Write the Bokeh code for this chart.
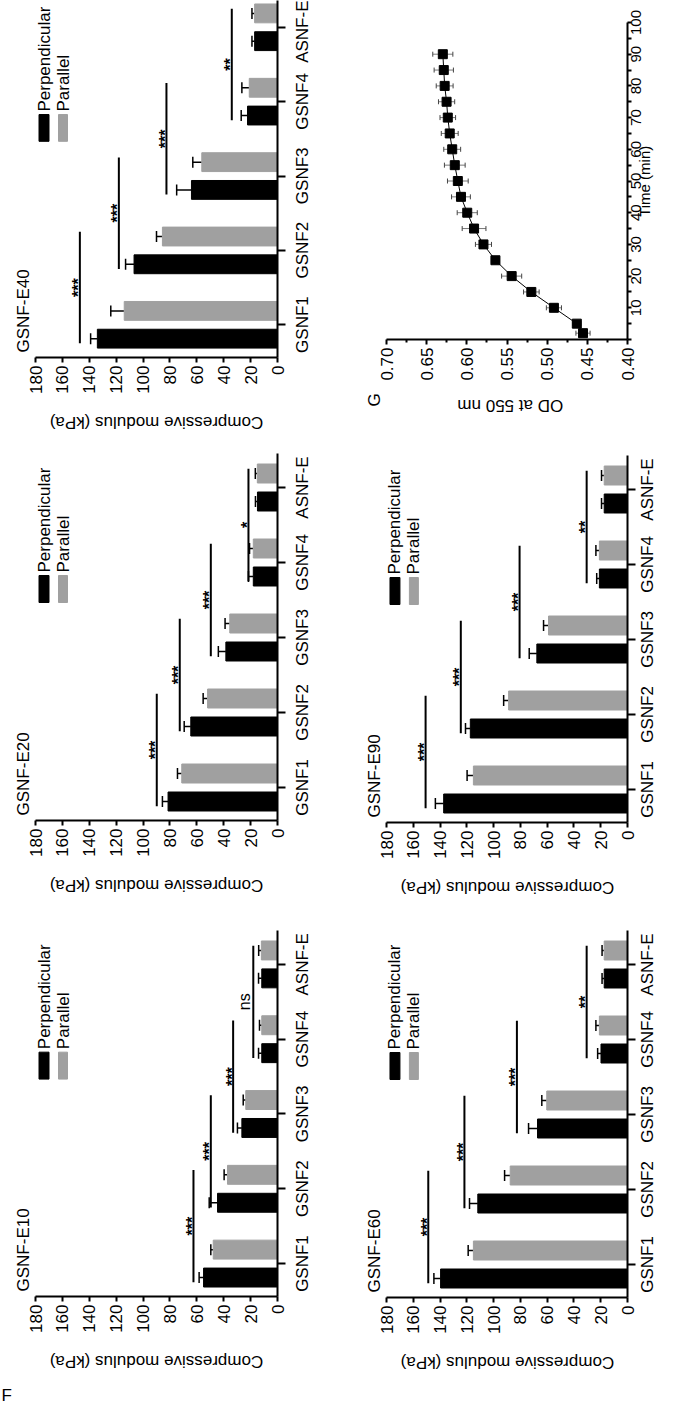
import math
from bokeh.plotting import figure
from bokeh.models import (Range1d, FixedTicker, Whisker, TeeHead, ColumnDataSource,
                          Title, LinearAxis)
from bokeh.layouts import row, column
from bokeh.core.properties import value
from bokeh.embed import file_html
from bokeh.resources import INLINE

# ---------------- data ----------------
categories = ["GSNF1", "GSNF2", "GSNF3", "GSNF4", "ASNF-E"]
series_names = ["Perpendicular", "Parallel"]
value_ticks = [0, 20, 40, 60, 80, 100, 120, 140, 160, 180]

e10_perp = [55.0, 44.6, 26.5, 11.7, 11.7]
e10_perp_err = [3.3, 6.2, 3.3, 2.4, 2.4]
e10_para = [47.8, 37.2, 23.6, 11.7, 12.0]
e10_para_err = [1.8, 2.5, 1.9, 1.7, 2.0]
e10_sig = [62.5, 49.6, 33.0, 18.0]
e10_sig_txt = ["***", "***", "***", "ns"]

e20_perp = [81.4, 64.5, 38.4, 18.0, 14.9]
e20_perp_err = [4.2, 4.9, 5.6, 3.6, 1.5]
e20_para = [71.2, 52.0, 35.5, 18.0, 15.0]
e20_para_err = [3.2, 3.3, 3.5, 2.8, 1.5]
e20_sig = [89.8, 72.7, 49.6, 21.6]
e20_sig_txt = ["***", "***", "***", "*"]

e40_perp = [134.0, 106.7, 64.0, 22.3, 17.0]
e40_perp_err = [5.0, 6.3, 11.0, 4.7, 2.0]
e40_para = [114.0, 85.6, 56.3, 21.0, 17.0]
e40_para_err = [10.0, 4.4, 6.7, 5.5, 2.0]
e40_sig = [147.0, 118.0, 82.6, 34.0]
e40_sig_txt = ["***", "***", "***", "**"]

e60_perp = [139.6, 111.8, 67.2, 19.8, 17.4]
e60_perp_err = [5.0, 6.2, 6.7, 2.5, 1.6]
e60_para = [115.1, 87.6, 60.3, 21.0, 17.4]
e60_para_err = [3.9, 4.2, 3.7, 2.6, 1.6]
e60_sig = [148.8, 121.8, 82.6, 30.5]
e60_sig_txt = ["***", "***", "***", "**"]

e90_perp = [137.3, 117.4, 67.7, 21.0, 17.4]
e90_perp_err = [6.2, 3.6, 5.7, 2.0, 2.0]
e90_para = [115.1, 88.8, 59.0, 21.0, 17.4]
e90_para_err = [4.7, 3.7, 3.7, 2.6, 2.0]
e90_sig = [150.8, 124.5, 80.6, 30.5]
e90_sig_txt = ["***", "***", "***", "**"]

od_time = [2, 5, 10, 15, 20, 25, 30, 35, 40, 45, 50, 55, 60, 65, 70, 75, 80, 85, 90]
od_value = [0.4554, 0.4631, 0.4916, 0.5197, 0.5442, 0.5644, 0.5793, 0.5910, 0.5995, 0.6073,
            0.6112, 0.6150, 0.6182, 0.6213, 0.6237, 0.6252, 0.6276, 0.6287, 0.6299]
od_err = [0.0088, 0.0050, 0.0094, 0.0097, 0.0125, 0.0050, 0.0100, 0.0148, 0.0125, 0.0117,
          0.0129, 0.0129, 0.0105, 0.0105, 0.0097, 0.0101, 0.0105, 0.0120, 0.0125]
od_ticks = [0.40, 0.45, 0.50, 0.55, 0.60, 0.65, 0.70]
od_minor_ticks = [0.425, 0.475, 0.525, 0.575, 0.625, 0.675]
time_ticks = [0, 10, 20, 30, 40, 50, 60, 70, 80, 90, 100]
time_all_ticks = [0, 5, 10, 15, 20, 25, 30, 35, 40, 45, 50, 55, 60, 65, 70, 75, 80, 85, 90, 95, 100]

# ---------------- style ----------------
FONT = "Liberation Sans"
FS = 17
BLACK = "#000000"
GRAY = "#a0a0a0"
PX_PER_CAT = 75.0
PX_PER_KPA = 242.0 / 180.0
STAR_OFF_PX = {"***": 1.0, "**": 1.0, "*": 1.0, "ns": 8.7}
# Liberation Sans (Arial metrics) advance widths in em, used to centre rotated labels
EM = {"G": .778, "S": .667, "N": .722, "F": .611, "A": .667, "E": .667, "-": .333,
      "C": .722, "o": .556, "m": .833, "p": .556, "r": .333, "e": .556, "s": .5, "i": .222,
      "v": .5, "d": .556, "u": .556, "l": .222, " ": .278, "(": .333, ")": .333, "k": .5,
      "P": .667, "a": .556, "O": .778, "D": .722, "t": .278, "n": .556, "T": .611}


def text_px(s, size):
    return sum(EM.get(c, .556) for c in s) * size


def style_axis(ax, fs=FS):
    ax.axis_line_width = 2
    ax.axis_line_color = BLACK
    ax.major_tick_line_width = 2
    ax.major_tick_line_color = BLACK
    ax.major_tick_in = 0
    ax.minor_tick_in = 0
    ax.minor_tick_out = 0
    ax.minor_tick_line_width = 2
    ax.minor_tick_line_color = BLACK
    ax.major_label_text_font = FONT
    ax.major_label_text_font_size = f"{fs}px"
    ax.major_label_text_color = BLACK
    ax.major_label_orientation = math.pi / 2


def title_axis(text, anchor, fs, standoff, angle):
    """A bare axis carrying one rotated text (an axis title) at a computed anchor."""
    ax = LinearAxis(ticker=FixedTicker(ticks=[anchor]),
                    major_label_overrides={anchor: text})
    style_axis(ax, fs)
    ax.axis_line_color = None
    ax.major_tick_line_color = None
    ax.major_tick_out = 0
    ax.major_label_standoff = standoff
    ax.major_label_orientation = angle
    return ax


def bar_panel(title, perp, perp_err, para, para_err, sig, sig_txt,
              width, height, bl, br, bt, bb, cat_standoff):
    fh = height - bt - bb
    y0 = -33.0 / PX_PER_CAT
    y1 = y0 + fh / PX_PER_CAT
    p = figure(width=width, height=height, min_border_left=bl, min_border_right=br,
               min_border_top=bt, min_border_bottom=bb,
               x_range=Range1d(180, 0), y_range=Range1d(y0, y1),
               y_axis_location="right", output_backend="svg", toolbar_location=None)
    p.outline_line_color = None
    p.xgrid.visible = False
    p.ygrid.visible = False

    idx = list(range(len(categories)))
    off = 14.0 / PX_PER_CAT
    bh = 19.0 / PX_PER_CAT
    for vals, errs, color, sgn in ((perp, perp_err, BLACK, -1), (para, para_err, GRAY, 1)):
        src = ColumnDataSource(dict(y=[i + sgn * off for i in idx], v=vals,
                                    hi=[a + b for a, b in zip(vals, errs)]))
        p.hbar(y="y", left=0, right="v", height=bh, color=color, source=src)
        p.add_layout(Whisker(source=src, base="y", lower="v", upper="hi", dimension="width",
                             line_color=BLACK, line_width=1.5,
                             upper_head=TeeHead(size=11, line_color=BLACK, line_width=1.5),
                             lower_head=None))

    # significance brackets
    p.segment(x0=sig, y0=[i - 0.25 for i in range(len(sig))],
              x1=sig, y1=[i + 1.25 for i in range(len(sig))],
              line_width=2, color=BLACK)
    for is_star, style in ((True, "bold"), (False, "normal")):
        sel = [k for k, t in enumerate(sig_txt) if t.startswith("*") == is_star]
        if not sel:
            continue
        p.text(x=[sig[k] + STAR_OFF_PX[sig_txt[k]] / PX_PER_KPA for k in sel],
               y=[k + 0.5 for k in sel], text=[sig_txt[k] for k in sel], angle=math.pi / 2,
               text_align="center", text_baseline="middle", text_font_style=style,
               text_font=value(FONT), text_font_size=value("16px"), text_color=BLACK)

    # legend (rotated)
    sw_b, sw_t = y0 + 218 / PX_PER_CAT, y0 + 245 / PX_PER_CAT
    txt_y = y0 + 248 / PX_PER_CAT
    leg = [(180 - 3.5 / PX_PER_KPA, 180 - 13.5 / PX_PER_KPA, BLACK, series_names[0]),
           (180 - 23 / PX_PER_KPA, 180 - 32 / PX_PER_KPA, GRAY, series_names[1])]
    for l, r, c, name in leg:
        p.quad(left=[l], right=[r], bottom=[sw_b], top=[sw_t], color=c)
        p.text(x=[(l + r) / 2], y=[txt_y], text=[name], angle=math.pi / 2,
               text_align="left", text_baseline="middle",
               text_font=value(FONT), text_font_size=value(f"{FS}px"), text_color=BLACK)

    # value axis (original y axis), now along the bottom
    xa = p.xaxis[0]
    style_axis(xa)
    xa.ticker = FixedTicker(ticks=value_ticks)
    xa.major_tick_out = 5
    xa.major_label_standoff = 3
    lab = "Compressive modulus (kPa)"
    p.add_layout(title_axis(lab, 90 + text_px(lab, FS) / 2 / PX_PER_KPA, FS, 26, math.pi),
                 "below")

    # category axis: tick marks at the categories, labels centred on them
    ya = p.yaxis[0]
    style_axis(ya)
    shifted = [i - text_px(c, FS) / 2 / PX_PER_CAT for i, c in zip(idx, categories)]
    ya.ticker = FixedTicker(ticks=shifted, minor_ticks=idx)
    ya.major_label_overrides = {s: c for s, c in zip(shifted, categories)}
    ya.major_tick_out = 0
    ya.major_tick_line_color = None
    ya.minor_tick_out = 8
    ya.major_label_standoff = cat_standoff

    p.add_layout(Title(text=title, align="left", offset=5, standoff=5,
                       text_font=FONT, text_font_size=f"{FS}px", text_font_style="normal",
                       text_color=BLACK), "left")
    return p


def od_panel(width, height, bl, br, bt, bb):
    fh = height - bt - bb
    fw = width - bl - br
    p = figure(width=width, height=height, min_border_left=bl, min_border_right=br,
               min_border_top=bt, min_border_bottom=bb,
               x_range=Range1d(0.70, 0.40), y_range=Range1d(0, 100),
               y_axis_location="right", output_backend="svg", toolbar_location=None)
    p.outline_line_color = None
    p.xgrid.visible = False
    p.ygrid.visible = False
    src = ColumnDataSource(dict(t=od_time, od=od_value,
                                lo=[a - b for a, b in zip(od_value, od_err)],
                                hi=[a + b for a, b in zip(od_value, od_err)]))
    p.add_layout(Whisker(source=src, base="t", lower="lo", upper="hi", dimension="width",
                         line_color="#777777", line_width=1,
                         upper_head=TeeHead(size=5, line_color="#444444", line_width=1),
                         lower_head=TeeHead(size=5, line_color="#444444", line_width=1)))
    p.line(x="od", y="t", source=src, color=BLACK, line_width=1)
    p.scatter(x="od", y="t", source=src, marker="square", size=9, color=BLACK)

    px_per_od = fw / 0.30
    px_per_min = fh / 100.0

    xa = p.xaxis[0]
    style_axis(xa)
    xa.ticker = FixedTicker(ticks=od_ticks, minor_ticks=od_minor_ticks)
    xa.major_label_overrides = {t: f"{t:.2f}" for t in od_ticks}
    xa.major_tick_out = 5
    xa.minor_tick_out = 3
    xa.major_label_standoff = 3
    lab = "OD at 550 nm"
    p.add_layout(title_axis(lab, 0.55 + text_px(lab, FS) / 2 / px_per_od, FS, 22, math.pi),
                 "below")

    # time axis: tick marks every 5 min, labels centred on the 10-min ticks
    tfs = 15
    tl = [str(t) for t in time_ticks]
    shifted = [t - text_px(s, tfs) / 2 / px_per_min for t, s in zip(time_ticks, tl)]
    ya = p.yaxis[0]
    style_axis(ya, tfs)
    ya.ticker = FixedTicker(ticks=shifted, minor_ticks=time_all_ticks)
    ya.major_label_overrides = {s: l for s, l in zip(shifted, tl)}
    ya.major_tick_out = 0
    ya.major_tick_line_color = None
    ya.minor_tick_out = 4
    ya.major_label_standoff = 5

    lab = "Time (min)"
    p.add_layout(title_axis(lab, 50 - text_px(lab, 15) / 2 / px_per_min, 15, -5, math.pi / 2),
                 "right")

    p.add_layout(Title(text="G", align="left", offset=-67, standoff=5,
                       text_font=FONT, text_font_size=f"{FS}px", text_font_style="normal",
                       text_color=BLACK), "left")
    return p


# left column (original top row)
p40 = bar_panel("GSNF-E40", e40_perp, e40_perp_err, e40_para, e40_para_err, e40_sig, e40_sig_txt,
                332, 444, 35, 55, 0, 84, 17)
p20 = bar_panel("GSNF-E20", e20_perp, e20_perp_err, e20_para, e20_para_err, e20_sig, e20_sig_txt,
                332, 478, 35, 55, 9, 102, 17)
p10 = bar_panel("GSNF-E10", e10_perp, e10_perp_err, e10_para, e10_para_err, e10_sig, e10_sig_txt,
                332, 482, 35, 55, 8, 107, 17)
p10.add_layout(Title(text="F", align="left", offset=-34, standoff=0,
                     text_font=FONT, text_font_size=f"{FS}px", text_font_style="normal",
                     text_color=BLACK), "below")

# right column (original bottom row)
pod = od_panel(337, 444, 40, 40, 22, 105)
p90 = bar_panel("GSNF-E90", e90_perp, e90_perp_err, e90_para, e90_para_err, e90_sig, e90_sig_txt,
                337, 478, 54, 41, 11, 100, 12)
p60 = bar_panel("GSNF-E60", e60_perp, e60_perp_err, e60_para, e60_para_err, e60_sig, e60_sig_txt,
                337, 482, 54, 41, 8, 107, 12)

layout = row(column(p40, p20, p10), column(pod, p90, p60))

with open("out.html", "w") as f:
    f.write(file_html(layout, INLINE))
